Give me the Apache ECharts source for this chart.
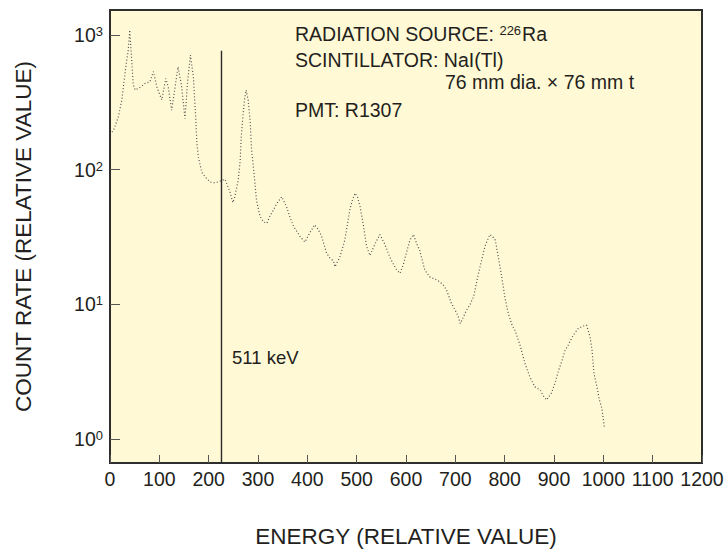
<!DOCTYPE html>
<html><head><meta charset="utf-8">
<script src="https://cdn.jsdelivr.net/npm/echarts@6/dist/echarts.min.js"></script>
<style>html,body{margin:0;padding:0;background:#fff}#c{width:724px;height:549px}</style>
</head><body><div id="c"></div>
<script>
// ---- data ----
const energy = [4,8,17,24,28,32,37,40,44,47,51,61,71,81,88,95,105,113,118,125,132,138,145,152,157,163,169,174,176,179,182,186,189,196,203,210,219,226,233,243,249,253,260,264,266,270,273,276,280,284,287,292,297,304,311,318,324,331,338,348,358,365,372,385,395,405,415,422,429,439,446,453,456,466,476,486,491,497,502,507,513,520,527,537,547,557,567,574,581,588,595,602,608,615,622,628,638,648,665,675,682,692,700,706,710,716,723,730,737,747,753,760,770,775,781,787,794,801,808,815,821,831,841,851,861,872,878,885,895,902,909,916,922,929,939,949,959,966,973,977,981,987,992,997,1002];
const countRate = [190,200,247,330,437,581,773,1090,650,430,391,409,437,450,535,412,330,475,412,277,412,580,420,240,437,710,490,233,160,125,111,96,92,86,81,80,81,83,85,69,57,63,84,118,175,262,340,390,330,233,140,94,59,45,41,40,45,50,56,63,53,44,38,32,29,34,39,36,32,24,22,21,19,22.5,30,50,59,67,62,53,40,27,23,28,33,28,22.5,20,18,17,20,25,30,33,28,25,18,16,15,14,12.8,10.2,9,8.1,7.2,8,9.1,10,11.4,17,21,27,33,32,30,22.5,16,11,8.4,7,6.4,5,3.65,2.9,2.44,2.31,2.1,1.95,2.2,2.6,3.2,3.8,4.5,5.0,5.9,6.6,6.9,7.0,5.75,4.6,3.07,2.44,1.95,1.69,1.23];
const xMin = 0, xMax = 1200, xInterval = 100;
const yMin = 0.663, yMax = 1535;
const markerEnergy = [226, 226];
const markerCount = [0.663, 764];
const markerLabel = '511 keV';
const xAxisTitle = 'ENERGY (RELATIVE VALUE)';
const yAxisTitle = 'COUNT RATE (RELATIVE VALUE)';
const noteLines = ['RADIATION SOURCE: ', '226', 'Ra', 'SCINTILLATOR: NaI(Tl)', '76 mm dia. × 76 mm t', 'PMT: R1307'];

const TXT = '#231f20';
const FONT = '"Liberation Sans", Arial, Helvetica, sans-serif';
const chart = echarts.init(document.getElementById('c'), null, {renderer: 'svg'});

const spectrum = energy.map((e, i) => [e, countRate[i]]);
const marker = markerEnergy.map((e, i) => [e, markerCount[i]]);

chart.setOption({
  animation: false,
  backgroundColor: '#ffffff',
  textStyle: {fontFamily: FONT},
  grid: {left: 110, top: 10, right: 22, bottom: 86, show: true, containLabel: false,
         outerBoundsMode: 'none',
         backgroundColor: '#fff9d5', borderColor: '#2e2e2e', borderWidth: 2},
  xAxis: {
    type: 'value', min: xMin, max: xMax, interval: xInterval,
    name: xAxisTitle, nameLocation: 'middle', nameGap: 62,
    nameTextStyle: {fontSize: 22.5, color: TXT, fontFamily: FONT},
    axisLine: {show: false},
    axisTick: {show: true, inside: true, length: 8, lineStyle: {color: '#555', width: 1}},
    axisLabel: {fontSize: 19.5, color: TXT, margin: 6, fontFamily: FONT,
                formatter: function (v) { return String(v); }},
    splitLine: {show: false}
  },
  yAxis: {
    type: 'log', logBase: 10, min: yMin, max: yMax,
    name: yAxisTitle, nameLocation: 'middle', nameGap: 75,
    nameTextStyle: {fontSize: 22.5, color: TXT, fontFamily: FONT},
    axisLine: {show: false},
    axisTick: {show: true, inside: true, length: 10, lineStyle: {color: '#555', width: 1}},
    axisLabel: {
      margin: 7, showMinLabel: false, showMaxLabel: false,
      formatter: function (v) {
        const p = Math.log10(v);
        if (Math.abs(p - Math.round(p)) > 1e-6) return '';
        return '{b|10}{s|' + Math.round(p) + '}';
      },
      rich: {
        b: {fontSize: 19.5, color: TXT, fontFamily: FONT},
        s: {fontSize: 13, color: TXT, fontFamily: FONT, verticalAlign: 'top', padding: [0, 0, 7, 0]}
      }
    },
    splitLine: {show: false}
  },
  series: [
    {type: 'line', data: spectrum, showSymbol: false, symbol: 'none', silent: true,
     lineStyle: {color: '#505050', width: 1.2, type: [1, 2.2]}},
    {type: 'line', data: marker, showSymbol: false, symbol: 'none', silent: true,
     lineStyle: {color: '#2a2a2a', width: 1.4}}
  ],
  graphic: [
    {type: 'text', x: 295, y: 34, style: {
      text: '{a|' + noteLines[0] + '}{s|' + noteLines[1] + '}{a|' + noteLines[2] + '}',
      verticalAlign: 'middle', align: 'left',
      rich: {a: {fontSize: 19.5, fill: TXT, fontFamily: FONT},
             s: {fontSize: 13, fill: TXT, fontFamily: FONT, verticalAlign: 'top', padding: [0, 1, 7, 0]}}}},
    {type: 'text', x: 295, y: 60, style: {text: noteLines[3], font: '19.5px ' + FONT, fill: TXT, verticalAlign: 'middle', align: 'left'}},
    {type: 'text', x: 445, y: 82, style: {text: noteLines[4], font: '19.5px ' + FONT, fill: TXT, verticalAlign: 'middle', align: 'left'}},
    {type: 'text', x: 295, y: 110, style: {text: noteLines[5], font: '19.5px ' + FONT, fill: TXT, verticalAlign: 'middle', align: 'left'}},
    {type: 'text', x: 232, y: 357, style: {text: markerLabel, font: '18.5px ' + FONT, fill: TXT, verticalAlign: 'middle', align: 'left'}}
  ]
});
</script>
</body></html>
